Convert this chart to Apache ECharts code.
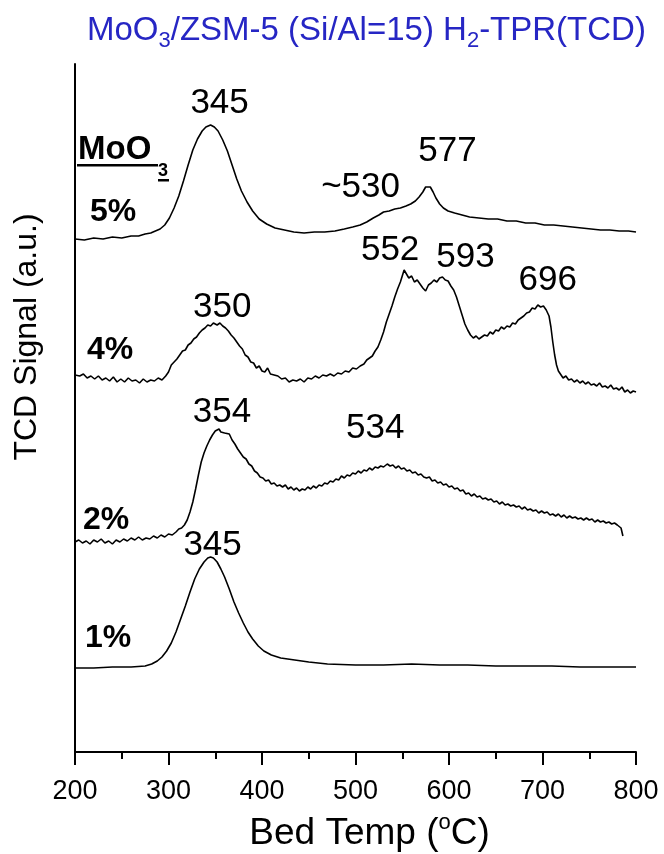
<!DOCTYPE html>
<html>
<head>
<meta charset="utf-8">
<script src="https://cdn.jsdelivr.net/npm/echarts@6/dist/echarts.min.js"></script>
<style>
  html, body { margin: 0; padding: 0; background: #fff; }
  #chart { width: 664px; height: 854px; }
</style>
</head>
<body>
<div id="chart"></div>
<script>
// H2-TPR traces (TCD signal, a.u., stacked) vs bed temperature (°C)
const tpr5 = [[200,5.13],[210,5.12],[220,5.14],[230,5.13],[240,5.15],[250,5.14],[260,5.16],[268,5.16],[275,5.18],[281,5.19],[286,5.21],[291,5.23],[296,5.27],[301,5.34],[306,5.44],[311,5.56],[316,5.71],[321,5.87],[326,6.02],[331,6.13],[336,6.21],[340,6.25],[345,6.27],[349,6.25],[353,6.21],[358,6.12],[363,6.01],[368,5.87],[373,5.73],[378,5.61],[384,5.50],[390,5.41],[397,5.33],[405,5.28],[414,5.24],[424,5.22],[434,5.20],[445,5.19],[456,5.20],[467,5.20],[478,5.21],[488,5.23],[497,5.25],[505,5.27],[512,5.30],[519,5.34],[525,5.37],[530,5.40],[536,5.41],[542,5.43],[548,5.44],[554,5.46],[559,5.48],[564,5.51],[568,5.55],[572,5.60],[575,5.65],[577,5.67],[580,5.65],[583,5.60],[586,5.54],[590,5.48],[594,5.44],[599,5.41],[606,5.39],[614,5.37],[622,5.35],[632,5.34],[642,5.33],[652,5.33],[662,5.31],[672,5.31],[682,5.29],[692,5.29],[702,5.27],[712,5.27],[722,5.26],[732,5.25],[742,5.24],[752,5.23],[762,5.22],[772,5.22],[782,5.21],[792,5.21],[800,5.20]];

const tpr4 = [[200,3.77],[205,3.76],[209,3.78],[213,3.74],[217,3.76],[221,3.73],[225,3.76],[229,3.72],[233,3.74],[237,3.71],[241,3.75],[245,3.70],[249,3.73],[253,3.70],[257,3.74],[261,3.71],[265,3.72],[269,3.69],[273,3.73],[277,3.70],[281,3.72],[285,3.71],[289,3.74],[293,3.72],[297,3.76],[300,3.80],[303,3.87],[306,3.90],[309,3.93],[312,3.97],[315,4.01],[318,4.02],[321,4.07],[324,4.09],[327,4.13],[330,4.15],[333,4.19],[336,4.22],[339,4.24],[342,4.27],[345,4.26],[348,4.29],[350,4.30],[352,4.27],[355,4.29],[358,4.26],[361,4.24],[364,4.21],[367,4.17],[370,4.14],[373,4.10],[376,4.06],[379,4.03],[382,3.97],[385,3.95],[388,3.90],[391,3.89],[394,3.84],[397,3.86],[400,3.81],[403,3.80],[406,3.84],[409,3.78],[413,3.77],[417,3.76],[421,3.73],[425,3.74],[429,3.70],[433,3.72],[437,3.71],[441,3.73],[445,3.70],[449,3.74],[453,3.73],[457,3.76],[461,3.74],[465,3.77],[469,3.76],[473,3.78],[477,3.76],[481,3.79],[485,3.78],[489,3.81],[493,3.80],[497,3.84],[501,3.83],[505,3.86],[509,3.88],[512,3.92],[515,3.94],[518,3.96],[521,4.01],[524,4.05],[527,4.12],[530,4.20],[533,4.30],[536,4.38],[539,4.46],[542,4.55],[545,4.63],[548,4.70],[550,4.76],[552,4.82],[554,4.80],[557,4.74],[560,4.76],[563,4.70],[566,4.72],[569,4.68],[572,4.64],[575,4.61],[578,4.67],[581,4.69],[584,4.72],[587,4.70],[590,4.74],[593,4.75],[596,4.72],[599,4.71],[602,4.66],[605,4.62],[608,4.55],[611,4.46],[614,4.37],[617,4.28],[620,4.22],[623,4.17],[626,4.14],[629,4.16],[632,4.13],[635,4.15],[638,4.17],[641,4.16],[644,4.20],[647,4.18],[650,4.22],[653,4.21],[656,4.25],[659,4.23],[662,4.26],[665,4.25],[668,4.29],[671,4.28],[674,4.32],[677,4.34],[680,4.36],[683,4.39],[686,4.40],[689,4.44],[692,4.43],[695,4.47],[696,4.48],[698,4.45],[701,4.46],[704,4.42],[707,4.36],[709,4.25],[711,4.10],[713,3.97],[715,3.87],[717,3.81],[719,3.79],[722,3.74],[725,3.76],[728,3.72],[731,3.73],[734,3.70],[737,3.72],[740,3.69],[743,3.71],[746,3.68],[749,3.70],[752,3.67],[755,3.68],[758,3.66],[761,3.69],[764,3.65],[767,3.66],[770,3.64],[773,3.67],[776,3.63],[779,3.64],[782,3.62],[785,3.65],[788,3.60],[791,3.62],[794,3.59],[797,3.61],[800,3.60]];

const tpr2 = [[200,2.10],[204,2.12],[208,2.09],[212,2.11],[216,2.08],[220,2.12],[224,2.10],[228,2.13],[232,2.09],[236,2.11],[240,2.08],[244,2.12],[248,2.10],[252,2.13],[256,2.11],[260,2.14],[264,2.12],[268,2.15],[272,2.12],[276,2.14],[280,2.13],[284,2.16],[288,2.14],[292,2.17],[296,2.15],[300,2.18],[304,2.17],[308,2.20],[311,2.23],[314,2.24],[317,2.27],[320,2.32],[323,2.40],[326,2.50],[329,2.63],[332,2.77],[335,2.90],[338,2.99],[341,3.06],[344,3.12],[347,3.17],[350,3.21],[352,3.19],[354,3.23],[356,3.20],[358,3.22],[360,3.19],[362,3.21],[365,3.18],[368,3.12],[371,3.08],[374,3.03],[377,2.99],[380,2.95],[383,2.93],[386,2.88],[389,2.86],[392,2.81],[395,2.79],[398,2.75],[401,2.74],[404,2.71],[407,2.72],[410,2.68],[413,2.69],[416,2.66],[419,2.67],[422,2.65],[425,2.67],[428,2.63],[431,2.65],[434,2.62],[437,2.64],[440,2.61],[443,2.63],[446,2.62],[449,2.65],[452,2.63],[455,2.66],[458,2.64],[461,2.67],[464,2.66],[467,2.69],[470,2.68],[473,2.71],[476,2.70],[479,2.73],[482,2.72],[485,2.76],[488,2.74],[491,2.77],[494,2.76],[497,2.79],[500,2.78],[503,2.81],[506,2.79],[509,2.82],[512,2.81],[515,2.84],[518,2.82],[521,2.85],[524,2.84],[527,2.86],[530,2.85],[534,2.88],[537,2.86],[540,2.87],[543,2.84],[546,2.86],[549,2.83],[552,2.84],[555,2.81],[558,2.82],[561,2.79],[564,2.80],[567,2.77],[570,2.78],[573,2.75],[576,2.74],[579,2.75],[582,2.71],[585,2.72],[588,2.69],[591,2.70],[594,2.67],[597,2.68],[600,2.65],[603,2.66],[606,2.63],[609,2.64],[612,2.61],[615,2.62],[618,2.58],[621,2.59],[624,2.56],[627,2.58],[630,2.55],[633,2.56],[636,2.53],[639,2.54],[642,2.52],[645,2.53],[648,2.50],[651,2.51],[654,2.48],[657,2.50],[660,2.47],[663,2.48],[666,2.46],[669,2.47],[672,2.45],[675,2.46],[678,2.43],[681,2.45],[684,2.42],[687,2.43],[690,2.41],[693,2.42],[696,2.39],[699,2.41],[702,2.39],[705,2.40],[708,2.37],[711,2.38],[714,2.36],[717,2.38],[720,2.35],[723,2.37],[726,2.34],[729,2.36],[732,2.34],[735,2.35],[738,2.33],[741,2.34],[744,2.32],[747,2.34],[750,2.32],[753,2.33],[756,2.30],[759,2.32],[762,2.30],[765,2.31],[768,2.29],[771,2.30],[774,2.28],[777,2.29],[780,2.27],[782,2.29],[784,2.24],[786,2.16]];

const tpr1 = [[200,0.84],[220,0.84],[240,0.85],[260,0.85],[275,0.86],[282,0.88],[288,0.91],[293,0.95],[298,1.01],[303,1.09],[308,1.20],[313,1.33],[318,1.46],[323,1.60],[328,1.73],[333,1.83],[338,1.90],[342,1.94],[345,1.95],[348,1.94],[352,1.90],[356,1.83],[360,1.75],[365,1.63],[370,1.50],[375,1.39],[380,1.29],[385,1.20],[390,1.13],[396,1.06],[402,1.01],[410,0.97],[420,0.94],[435,0.92],[450,0.90],[470,0.88],[500,0.87],[530,0.87],[560,0.88],[590,0.87],[620,0.87],[650,0.86],[680,0.86],[710,0.86],[740,0.85],[770,0.85],[800,0.85]];

// MoO3 loading of each trace
const loadings = ['5%', '4%', '2%', '1%'];

// reduction peak temperatures and their printed labels
const peaks5 = [345, 530, 577];
const peakText5 = ['345', '~530', '577'];
const peaks4 = [350, 552, 593, 696];
const peakText4 = ['350', '552', '593', '696'];
const peaks2 = [354, 534];
const peakText2 = ['354', '534'];
const peaks1 = [345];
const peakText1 = ['345'];

// x-axis ticks
const xTicks = [200, 300, 400, 500, 600, 700, 800];

const FONT = '"Liberation Sans", Arial, Helvetica, sans-serif';

function valueAt(data, t) {
  let best = data[0];
  for (const p of data) if (Math.abs(p[0] - t) < Math.abs(best[0] - t)) best = p;
  return best[1];
}

function traceSeries(name, data, temps, texts, offsets, loadOffset) {
  const marks = temps.map((t, i) => ({
    coord: [t, valueAt(data, t)],
    label: { formatter: texts[i], offset: offsets[i] }
  }));
  marks.push({
    coord: [data[0][0], data[0][1]],
    label: {
      formatter: name, align: 'left', offset: loadOffset,
      fontWeight: 'bold', fontSize: 32
    }
  });
  return {
    type: 'line',
    name: name,
    data: data,
    showSymbol: false,
    silent: true,
    lineStyle: { color: '#000', width: 1.6 },
    markPoint: {
      symbol: 'circle',
      symbolSize: 0,
      silent: true,
      itemStyle: { color: 'rgba(0,0,0,0)' },
      label: {
        show: true, position: 'inside', color: '#000',
        fontFamily: FONT, fontSize: 35
      },
      data: marks
    }
  };
}

const chart = echarts.init(document.getElementById('chart'), null, { renderer: 'canvas' });

const BLUE = '#2626c4';
const subStyle = { fontSize: 22, lineHeight: 22, padding: [20, 0, 0, 0], verticalAlign: 'middle', color: BLUE, fontFamily: FONT, fontWeight: 'normal' };
const mainStyle = { fontSize: 33, lineHeight: 40, verticalAlign: 'middle', color: BLUE, fontFamily: FONT, fontWeight: 'normal' };

chart.setOption({
  animation: false,
  backgroundColor: '#fff',
  title: {
    text: '{a|MoO}{s|3}{a|/ZSM-5 (Si/Al=15) H}{s|2}{a|-TPR(TCD)}',
    left: 87,
    top: 11,
    padding: 0,
    textStyle: { fontWeight: 'normal', rich: { a: mainStyle, s: subStyle } }
  },
  grid: { left: 75, right: 28, top: 64, bottom: 102, containLabel: false, outerBoundsMode: 'none' },
  xAxis: {
    type: 'value',
    min: xTicks[0],
    max: xTicks[xTicks.length - 1],
    interval: 100,
    name: '{a|Bed Temp (}{o|o}{a|C)}',
    nameLocation: 'middle',
    nameGap: 60,
    nameTextStyle: {
      padding: [0, 0, 0, 28],
      rich: {
        a: { fontSize: 37, color: '#000', fontFamily: FONT, verticalAlign: 'middle' },
        o: { fontSize: 22, color: '#000', fontFamily: FONT, padding: [0, 0, 22, 0], verticalAlign: 'middle' }
      }
    },
    axisLine: { show: true, lineStyle: { color: '#000', width: 2 } },
    axisTick: { show: true, inside: false, length: 13, lineStyle: { color: '#000', width: 2 } },
    minorTick: { show: true, splitNumber: 2, length: 7, lineStyle: { color: '#000', width: 2 } },
    axisLabel: { show: true, color: '#000', fontSize: 27, fontFamily: FONT, margin: 26 },
    splitLine: { show: false },
    minorSplitLine: { show: false }
  },
  yAxis: {
    type: 'value',
    min: 0,
    max: 6.88,
    name: 'TCD Signal (a.u.)',
    nameLocation: 'middle',
    nameGap: 32,
    nameRotate: 90,
    nameTextStyle: { fontSize: 32, color: '#000', fontFamily: FONT, padding: [0, 0, 0, 142] },
    axisLine: { show: true, lineStyle: { color: '#000', width: 2 } },
    axisTick: { show: false },
    axisLabel: { show: false },
    splitLine: { show: false }
  },
  graphic: [
    { type: 'text', x: 78, y: 150, silent: true,
      style: { text: 'MoO', fontSize: 33, fontWeight: 'bold', fontFamily: FONT, fill: '#000', align: 'left', verticalAlign: 'middle' } },
    { type: 'text', x: 158, y: 171, silent: true,
      style: { text: '3', fontSize: 18, fontWeight: 'bold', fontFamily: FONT, fill: '#000', align: 'left', verticalAlign: 'middle' } },
    { type: 'rect', silent: true, shape: { x: 77, y: 164, width: 81, height: 2.5 }, style: { fill: '#000' } },
    { type: 'rect', silent: true, shape: { x: 158, y: 179, width: 11, height: 2.5 }, style: { fill: '#000' } }
  ],
  series: [
    traceSeries(loadings[0], tpr5, peaks5, peakText5, [[9, -22], [-23, -25], [20, -34]], [15, -27]),
    traceSeries(loadings[1], tpr4, peaks4, peakText4, [[7, -15], [-14, -20], [23, -20], [9, -24]], [12, -25]),
    traceSeries(loadings[2], tpr2, peaks2, peakText2, [[3, -17], [-12, -36]], [8, -22]),
    traceSeries(loadings[3], tpr1, peaks1, peakText1, [[2, -12]], [10, -30])
  ]
});
</script>
</body>
</html>
